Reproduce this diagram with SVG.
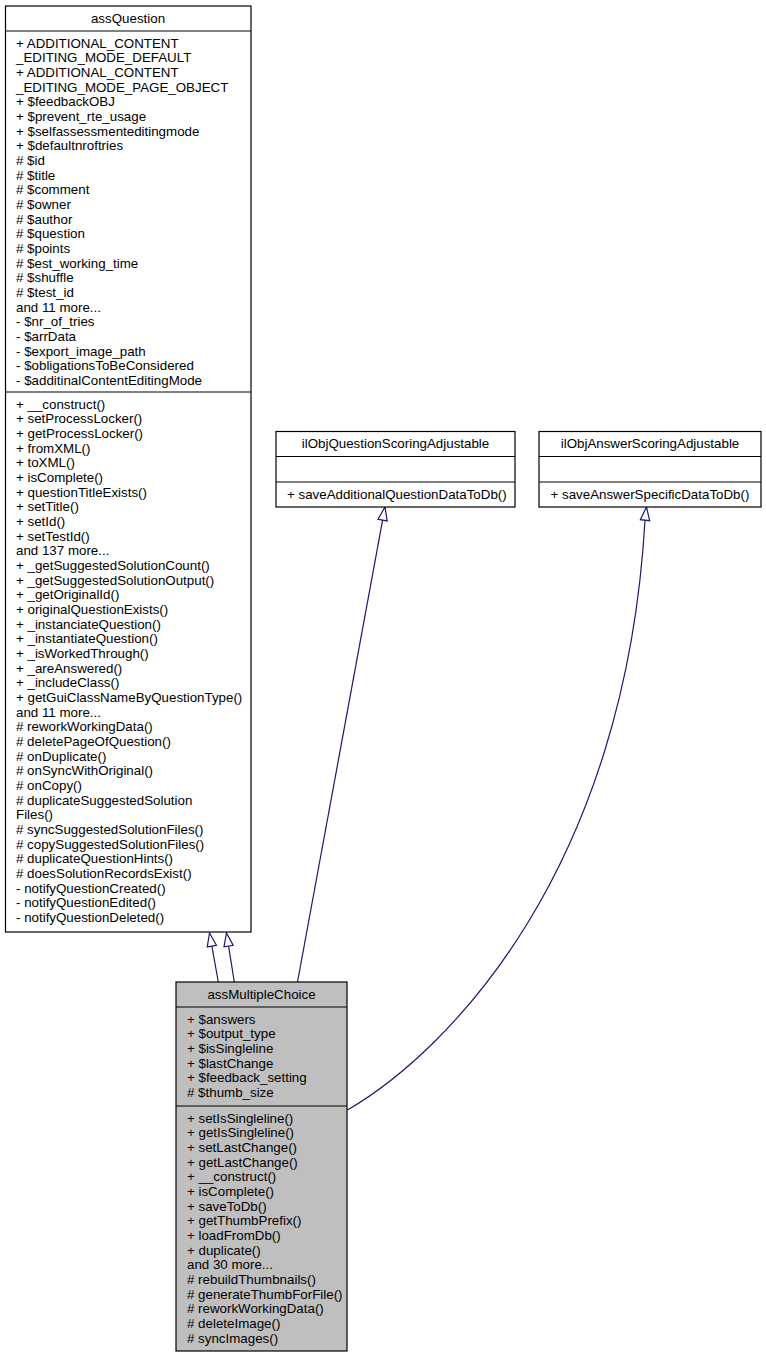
<svg xmlns="http://www.w3.org/2000/svg" width="766" height="1357" viewBox="0 0 766 1357">
<style>
text{font-family:"Liberation Sans",Arial,Helvetica,sans-serif;font-size:13.33px;fill:#000}
.t{text-anchor:middle}
.box{fill:#fff;stroke:#000;stroke-width:1.2}
.cur{fill:#bfbfbf;stroke:#000;stroke-width:1.2}
.sep{stroke:#000;stroke-width:1.2}
.edge{fill:none;stroke:#191970;stroke-width:1.2}
.head{fill:#fff;stroke:#191970;stroke-width:1.2}
</style>
<rect width="766" height="1357" fill="#fff"/>
<g id="connectors">
<path class="edge" d="M218.3,982 L211.9,946.1"/>
<polygon class="head" points="209.5,933 216.45,945.26 207.25,946.92"/>
<path class="edge" d="M234.3,982 L228.6,946.1"/>
<polygon class="head" points="226.5,933 233.2,945.4 223.98,946.86"/>
<path class="edge" d="M297.5,982 L382.6,520.1"/>
<polygon class="head" points="385,507 387.18,520.92 378,519.22"/>
<path class="edge" d="M347.5,1110 C450,1050 625,870 645,520.2"/>
<polygon class="head" points="646.5,507 649.64,520.72 640.36,519.68"/>
</g>
<g id="assQuestion">
<rect class="box" x="5.5" y="6" width="245.5" height="926"/>
<line class="sep" x1="5.5" y1="31" x2="251" y2="31"/>
<line class="sep" x1="5.5" y1="392" x2="251" y2="392"/>
<text class="t" x="128" y="22.5">assQuestion</text>
<text x="16" y="47.5">+ ADDITIONAL_CONTENT</text>
<text x="16" y="62.2">_EDITING_MODE_DEFAULT</text>
<text x="16" y="76.8">+ ADDITIONAL_CONTENT</text>
<text x="16" y="91.5">_EDITING_MODE_PAGE_OBJECT</text>
<text x="16" y="106.2">+ $feedbackOBJ</text>
<text x="16" y="120.8">+ $prevent_rte_usage</text>
<text x="16" y="135.5">+ $selfassessmenteditingmode</text>
<text x="16" y="150.2">+ $defaultnroftries</text>
<text x="16" y="164.8"># $id</text>
<text x="16" y="179.5"># $title</text>
<text x="16" y="194.2"># $comment</text>
<text x="16" y="208.8"># $owner</text>
<text x="16" y="223.5"># $author</text>
<text x="16" y="238.2"># $question</text>
<text x="16" y="252.8"># $points</text>
<text x="16" y="267.5"># $est_working_time</text>
<text x="16" y="282.2"># $shuffle</text>
<text x="16" y="296.8"># $test_id</text>
<text x="16" y="311.5">and 11 more...</text>
<text x="16" y="326.2">- $nr_of_tries</text>
<text x="16" y="340.8">- $arrData</text>
<text x="16" y="355.5">- $export_image_path</text>
<text x="16" y="370.2">- $obligationsToBeConsidered</text>
<text x="16" y="384.8">- $additinalContentEditingMode</text>
<text x="16" y="408.5">+ __construct()</text>
<text x="16" y="423.2">+ setProcessLocker()</text>
<text x="16" y="437.8">+ getProcessLocker()</text>
<text x="16" y="452.5">+ fromXML()</text>
<text x="16" y="467.2">+ toXML()</text>
<text x="16" y="481.8">+ isComplete()</text>
<text x="16" y="496.5">+ questionTitleExists()</text>
<text x="16" y="511.2">+ setTitle()</text>
<text x="16" y="525.8">+ setId()</text>
<text x="16" y="540.5">+ setTestId()</text>
<text x="16" y="555.2">and 137 more...</text>
<text x="16" y="569.8">+ _getSuggestedSolutionCount()</text>
<text x="16" y="584.5">+ _getSuggestedSolutionOutput()</text>
<text x="16" y="599.2">+ _getOriginalId()</text>
<text x="16" y="613.8">+ originalQuestionExists()</text>
<text x="16" y="628.5">+ _instanciateQuestion()</text>
<text x="16" y="643.2">+ _instantiateQuestion()</text>
<text x="16" y="657.8">+ _isWorkedThrough()</text>
<text x="16" y="672.5">+ _areAnswered()</text>
<text x="16" y="687.2">+ _includeClass()</text>
<text x="16" y="701.8">+ getGuiClassNameByQuestionType()</text>
<text x="16" y="716.5">and 11 more...</text>
<text x="16" y="731.2"># reworkWorkingData()</text>
<text x="16" y="745.8"># deletePageOfQuestion()</text>
<text x="16" y="760.5"># onDuplicate()</text>
<text x="16" y="775.2"># onSyncWithOriginal()</text>
<text x="16" y="789.8"># onCopy()</text>
<text x="16" y="804.5"># duplicateSuggestedSolution</text>
<text x="16" y="819.2">Files()</text>
<text x="16" y="833.8"># syncSuggestedSolutionFiles()</text>
<text x="16" y="848.5"># copySuggestedSolutionFiles()</text>
<text x="16" y="863.2"># duplicateQuestionHints()</text>
<text x="16" y="877.8"># doesSolutionRecordsExist()</text>
<text x="16" y="892.5">- notifyQuestionCreated()</text>
<text x="16" y="907.2">- notifyQuestionEdited()</text>
<text x="16" y="921.8">- notifyQuestionDeleted()</text>
</g>
<g id="ilObjQuestionScoringAdjustable">
<rect class="box" x="276" y="431.5" width="239" height="75.5"/>
<line class="sep" x1="276" y1="456.5" x2="515" y2="456.5"/>
<line class="sep" x1="276" y1="482" x2="515" y2="482"/>
<text class="t" x="395.5" y="447.5">ilObjQuestionScoringAdjustable</text>
<text x="287" y="498.5">+ saveAdditionalQuestionDataToDb()</text>
</g>
<g id="ilObjAnswerScoringAdjustable">
<rect class="box" x="539" y="431.5" width="222" height="75.5"/>
<line class="sep" x1="539" y1="456.5" x2="761" y2="456.5"/>
<line class="sep" x1="539" y1="482" x2="761" y2="482"/>
<text class="t" x="650" y="447.5">ilObjAnswerScoringAdjustable</text>
<text x="550.5" y="498.5">+ saveAnswerSpecificDataToDb()</text>
</g>
<g id="assMultipleChoice">
<rect class="cur" x="176" y="982" width="171" height="369"/>
<line class="sep" x1="176" y1="1007" x2="347" y2="1007"/>
<line class="sep" x1="176" y1="1106" x2="347" y2="1106"/>
<text class="t" x="261.5" y="998.5">assMultipleChoice</text>
<text x="187" y="1023.5">+ $answers</text>
<text x="187" y="1038.2">+ $output_type</text>
<text x="187" y="1052.8">+ $isSingleline</text>
<text x="187" y="1067.5">+ $lastChange</text>
<text x="187" y="1082.2">+ $feedback_setting</text>
<text x="187" y="1096.8"># $thumb_size</text>
<text x="187" y="1122.5">+ setIsSingleline()</text>
<text x="187" y="1137.2">+ getIsSingleline()</text>
<text x="187" y="1151.8">+ setLastChange()</text>
<text x="187" y="1166.5">+ getLastChange()</text>
<text x="187" y="1181.2">+ __construct()</text>
<text x="187" y="1195.8">+ isComplete()</text>
<text x="187" y="1210.5">+ saveToDb()</text>
<text x="187" y="1225.2">+ getThumbPrefix()</text>
<text x="187" y="1239.8">+ loadFromDb()</text>
<text x="187" y="1254.5">+ duplicate()</text>
<text x="187" y="1269.2">and 30 more...</text>
<text x="187" y="1283.8"># rebuildThumbnails()</text>
<text x="187" y="1298.5"># generateThumbForFile()</text>
<text x="187" y="1313.2"># reworkWorkingData()</text>
<text x="187" y="1327.8"># deleteImage()</text>
<text x="187" y="1342.5"># syncImages()</text>
</g>
</svg>
